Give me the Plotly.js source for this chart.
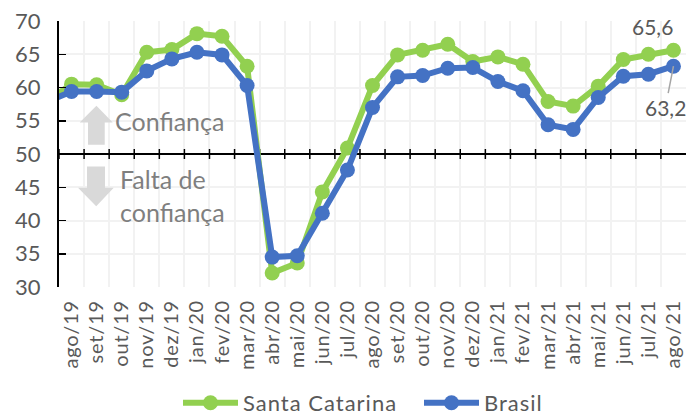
<!DOCTYPE html>
<html><head><meta charset="utf-8">
<script src="https://cdn.plot.ly/plotly-3.0.1.min.js"></script>
<style>html,body{margin:0;padding:0;background:#fff}
.xtick text{letter-spacing:0.8px}
.legendtext{letter-spacing:1px}</style></head>
<body><div id="chart" style="width:686px;height:414px"></div>
<script>
const categories = ["jul/19","ago/19","set/19","out/19","nov/19","dez/19","jan/20","fev/20","mar/20","abr/20","mai/20","jun/20","jul/20","ago/20","set/20","out/20","nov/20","dez/20","jan/21","fev/21","mar/21","abr/21","mai/21","jun/21","jul/21","ago/21"];
const santaCatarina = [57.9,60.5,60.4,58.9,65.3,65.7,68.1,67.7,63.2,32.1,33.6,44.3,50.9,60.3,64.9,65.6,66.5,63.9,64.6,63.5,57.9,57.2,60.2,64.2,65.0,65.6];
const brasil = [57.8,59.4,59.4,59.3,62.5,64.3,65.3,64.9,60.3,34.5,34.7,41.1,47.6,57.0,61.6,61.8,62.9,63.0,60.9,59.5,54.4,53.7,58.5,61.7,62.0,63.2];
const yTicks = [30,35,40,45,50,55,60,65,70];

const W=686,H=414,L=59.3,R=0,T=21,B=126.5;
const n=categories.length-1;
const px=x=>(x-L)/(W-L-R), py=y=>1-(y-T)/(H-T-B);
const dx=x=>0.5+n*px(x), dy=y=>30+40*py(y);
const FONT='Lato, "Open Sans", sans-serif', TXT='#595959';
const poly=pts=>'M'+pts.map(p=>dx(p[0]).toFixed(4)+','+dy(p[1]).toFixed(4)).join('L')+'Z';
const arrow=(pts)=>({type:'path',xref:'x',yref:'y',path:poly(pts),fillcolor:'#d9d9d9',line:{width:0},layer:'between'});

const shapes=[
 arrow([[96.7,106],[113,122.7],[105,122.7],[105,145],[88.3,145],[88.3,122.7],[80,122.7]]),
 arrow([[87.3,166.7],[105.3,166.7],[105.3,188],[114,188],[96.5,206.7],[78.3,188],[87.3,188]]),
 {type:'line',xref:'x',yref:'y',x0:0.5,x1:n+0.5,y0:50,y1:50,line:{color:'#000',width:2},layer:'between'}
];
for(let i=1;i<categories.length;i++){
 shapes.push({type:'line',xref:'x',yref:'y',x0:i-0.5,x1:i-0.5,y0:49.25,y1:50.75,line:{color:'#000',width:1.5},layer:'between'});
}
const comma=v=>v.toFixed(1).replace('.',',');
const annotations=[
 {xref:'paper',yref:'paper',x:px(113),y:py(121),xanchor:'left',yanchor:'middle',showarrow:false,text:'Confiança',font:{family:FONT,size:25,color:'#7f7f7f'}},
 {xref:'paper',yref:'paper',x:px(118),y:py(196),xanchor:'left',yanchor:'middle',align:'left',showarrow:false,text:'Falta de<br>confiança',font:{family:FONT,size:25,color:'#7f7f7f'}},
 {xref:'x',yref:'y',x:categories[n],y:santaCatarina[n],xshift:-21,yshift:24,showarrow:false,text:comma(santaCatarina[n]),font:{family:FONT,size:21,color:TXT}},
 {xref:'x',yref:'y',x:categories[n],y:brasil[n],ax:-8,ay:41,showarrow:true,arrowwidth:1.5,arrowcolor:'#a6a6a6',arrowhead:0,text:comma(brasil[n]),font:{family:FONT,size:21,color:TXT}}
];
const tr=(name,y,c)=>({type:'scatter',mode:'lines+markers',name,x:categories,y,line:{color:c,width:6},marker:{color:c,size:15},hoverinfo:'skip'});
Plotly.newPlot('chart',[tr('Santa Catarina',santaCatarina,'#92d050'),tr('Brasil',brasil,'#4472c4')],{
 width:W,height:H,margin:{l:L,r:R,t:T,b:B,pad:0},paper_bgcolor:'#fff',plot_bgcolor:'#fff',
 font:{family:FONT,color:TXT},
 xaxis:{type:'category',categoryorder:'array',categoryarray:categories,range:[0.5,n+0.5],tickson:'boundaries',ticks:'',tickangle:-90,
   showgrid:true,gridcolor:'#f2f2f2',gridwidth:2,showline:false,zeroline:false,tickfont:{family:FONT,size:20,color:TXT},ticklabelstandoff:8,automargin:false},
 yaxis:{range:[30,70],tickvals:yTicks,ticks:'inside',ticklen:7,tickwidth:1.5,tickcolor:'#000',showline:true,linecolor:'#000',linewidth:2,
   showgrid:true,gridcolor:'#f2f2f2',gridwidth:2,zeroline:false,tickfont:{family:FONT,size:22,color:TXT},ticklabelstandoff:12,automargin:false},
 showlegend:true,
 legend:{orientation:'h',xref:'container',yref:'container',x:178/W,y:1-382/H,xanchor:'left',yanchor:'top',itemwidth:55,entrywidth:171,entrywidthmode:'pixels',font:{family:FONT,size:22,color:TXT},bgcolor:'rgba(0,0,0,0)'},
 shapes,annotations
},{displayModeBar:false,staticPlot:true});
</script></body></html>
